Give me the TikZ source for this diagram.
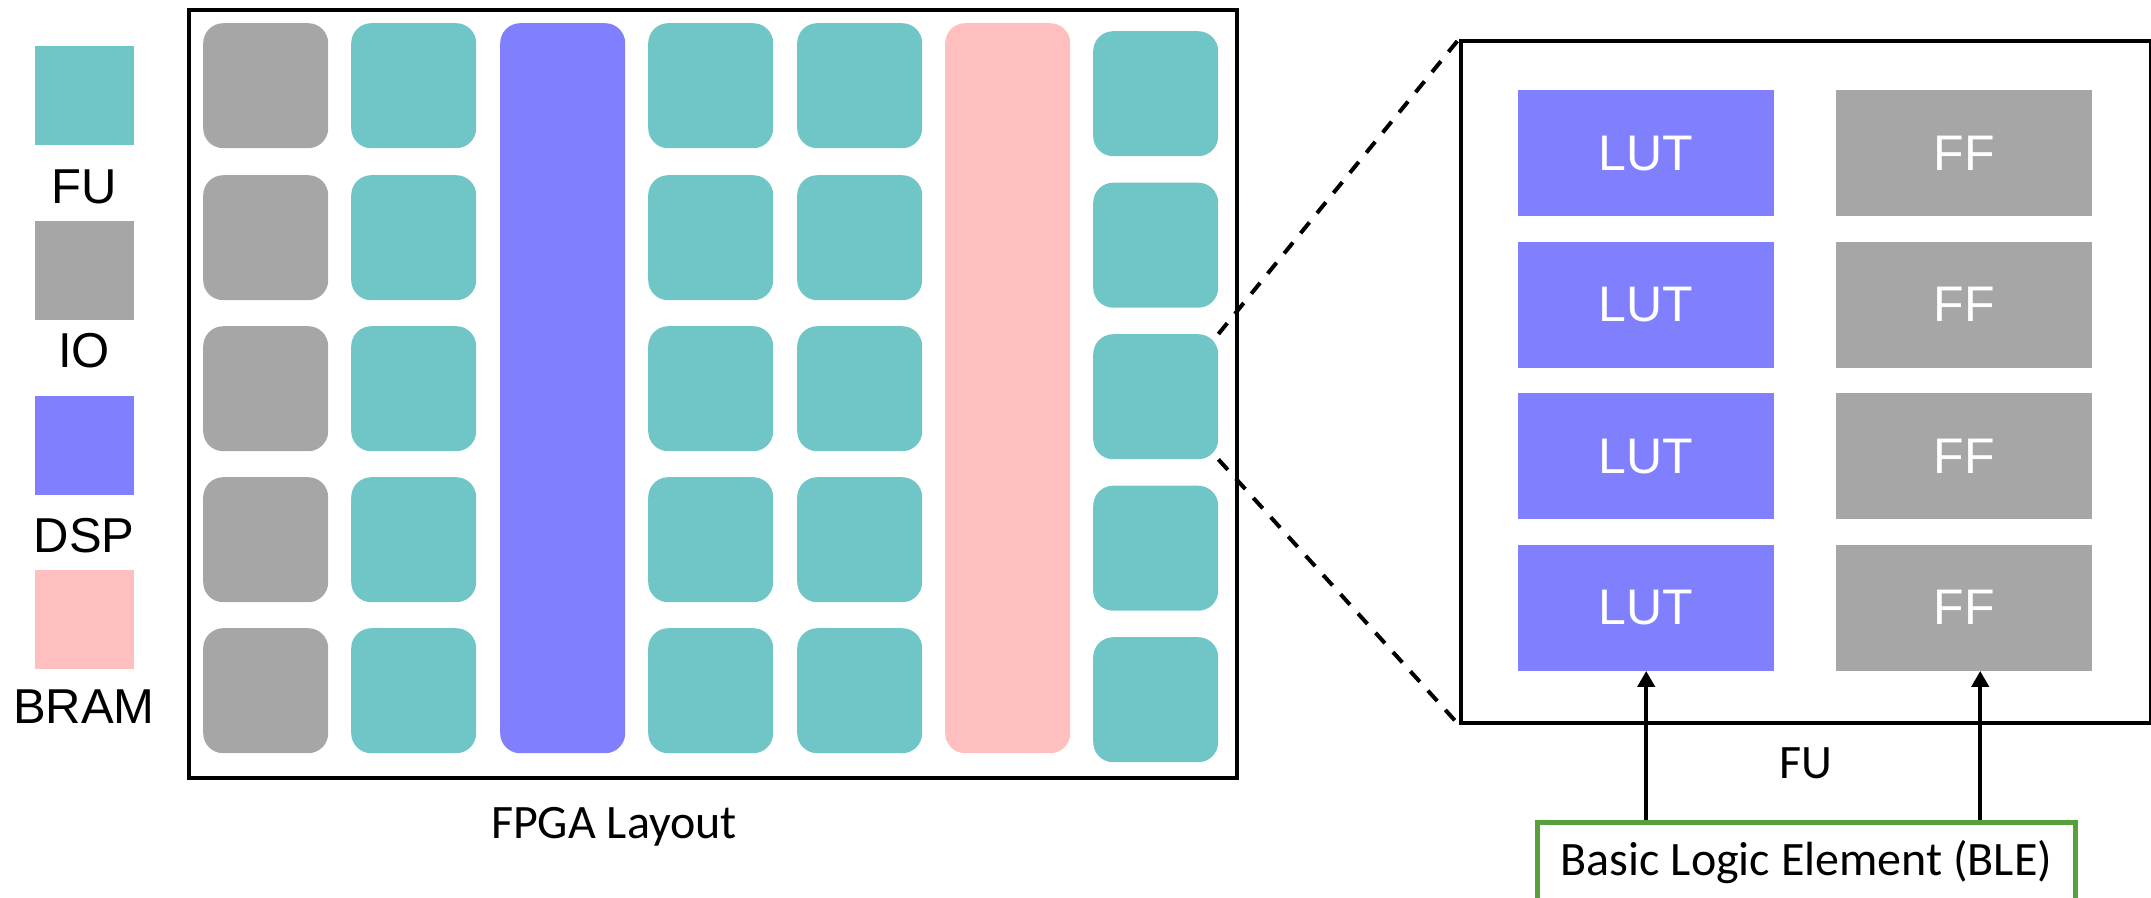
\documentclass[tikz,border=0pt]{standalone}
\usepackage{fontspec}
\setmainfont{Liberation Sans}
\newfontfamily\calib{Carlito}
\usetikzlibrary{arrows.meta,calc}
\definecolor{fucol}{RGB}{112,198,199}
\definecolor{iocol}{RGB}{166,166,166}
\definecolor{dspcol}{RGB}{128,128,255}
\definecolor{bramcol}{RGB}{255,191,191}
\definecolor{blegreen}{RGB}{88,160,60}
\begin{document}
\begin{tikzpicture}[x=1pt,y=-1pt,
  blk/.style={fill=#1,draw=none,rounded corners=20pt,minimum width=125pt,
    minimum height=125pt,inner sep=0pt,anchor=north west},
  tallblk/.style={blk=#1,minimum height=730pt},
  sq/.style={fill=#1,draw=none,minimum size=99pt,inner sep=0pt},
  lbl/.style={anchor=base,inner sep=0pt,font=\fontsize{49}{58}\selectfont},
  captxt/.style={anchor=base,inner sep=0pt,font=\calib\fontsize{48}{57}\selectfont},
  cell/.style={fill=#1,draw=none,minimum width=256pt,minimum height=126pt,
    inner sep=0pt,anchor=north west,text=white,font=\fontsize{50}{60}\selectfont},
  boxframe/.style={draw=black,line width=#1,inner sep=0pt,anchor=north west},
  zoomline/.style={draw=black,line width=4pt,dash pattern=on 14pt off 12pt},
  arr/.style={draw=black,line width=4.5pt,-{Triangle[length=16pt,width=17pt]}}]
\useasboundingbox (0,0) rectangle (2151,897);

% legend
\node[sq=fucol]   (lfu)   at (84.5,95.5)  {};
\node[sq=iocol]   (lio)   at (84.5,270.5) {};
\node[sq=dspcol]  (ldsp)  at (84.5,445.5) {};
\node[sq=bramcol] (lbram) at (84.5,619.5) {};
\node[lbl] (tfu)   at (84,203) {FU};
\node[lbl] (tio)   at (84,367) {IO};
\node[lbl] (tdsp)  at (84,552) {DSP};
\node[lbl] (tbram) at (84,723) {BRAM};

% FPGA layout
\node[boxframe=3.5pt,minimum width=1048pt,minimum height=768pt] (fpga) at (187,8) {};
\foreach \r [count=\i] in {23,175,326,477,628} {
  \node[blk=iocol] (io\i) at (203,\r) {};
  \node[blk=fucol] (fa\i) at (351,\r) {};
  \node[blk=fucol] (fb\i) at (648,\r) {};
  \node[blk=fucol] (fc\i) at (797,\r) {};
}
\node[tallblk=dspcol]  (dsp)  at (500,23) {};
\node[tallblk=bramcol] (bram) at (945,23) {};
\foreach \r [count=\i] in {31,182.5,334,485.5,637}
  \node[blk=fucol] (fd\i) at (1093,\r) {};
\node[captxt] (tfpga) at (614,838) {FPGA Layout};

% FU detail
\node[boxframe=4pt,minimum width=690pt,minimum height=682pt] (zoom) at (1459,39) {};
\foreach \r [count=\i] in {90,241.5,393,544.5} {
  \node[cell=dspcol] (lut\i) at (1518,\r) {LUT};
  \node[cell=iocol]  (ff\i)  at (1836,\r) {FF};
}
\node[captxt] (tfu2) at (1806,778) {FU};

\draw[zoomline] (fd3.north east) -- (zoom.north west);
\draw[zoomline] (fd3.south east) -- (zoom.south west);

% basic logic element
\node[boxframe=5pt,draw=blegreen,minimum width=538pt,minimum height=78pt] (ble) at (1535,820) {};
\node[captxt] (tble) at ($(ble.north)+(0,55)$) {Basic Logic Element (BLE)};
\coordinate (ffin) at ($(ff4.south)+(16,0)$);
\draw[arr] (ble.north -| lut4.south) -- (lut4.south);
\draw[arr] (ble.north -| ffin) -- (ffin);
\end{tikzpicture}
\end{document}
